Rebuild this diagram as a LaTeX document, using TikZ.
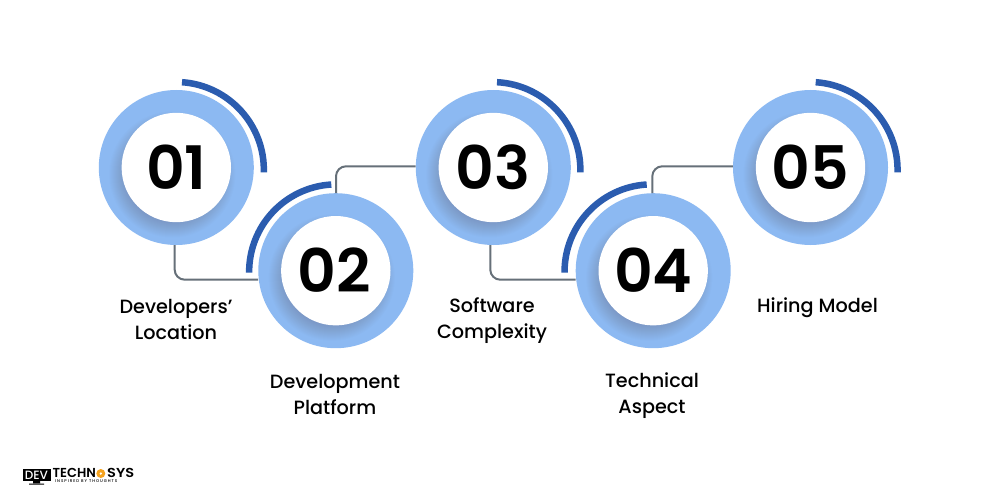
\documentclass[tikz,border=0pt]{standalone}
\usepackage{fontspec}
\setmainfont{Poppins Medium}[BoldFont={Poppins SemiBold}]
\usetikzlibrary{calc}
\definecolor{ringblue}{HTML}{8CB9F2}
\definecolor{arcblue}{HTML}{2B5CAF}
\definecolor{linegray}{HTML}{667079}
\definecolor{logoorange}{HTML}{F5A31F}
\definecolor{shadegray}{HTML}{6E6A80}
\tikzset{
  x=1pt,y=-1pt,
  ring/.style={circle,fill=ringblue,minimum size=155pt,inner sep=0pt},
  hole/.style={circle,fill=white,minimum size=109.4pt,inner sep=0pt,font=\fontsize{60}{60}\selectfont\bfseries,text=black},
  conn/.style={draw=linegray,line width=2pt,rounded corners=10pt},
  sweep/.style={draw=arcblue,line width=6.5pt},
  label/.style={align=center,font=\fontsize{19.2}{26}\selectfont,text=black,inner sep=0pt},
  logotext/.style={font=\fontsize{13}{13}\selectfont\bfseries,text=black,inner sep=0pt,anchor=west},
}
\newcommand{\shadowstack}[1]{%
  \begin{scope}
    \clip (#1) circle (77.5);
    \foreach \r in {63,62,...,46}{
      \fill[shadegray,opacity=0.024] ($(#1)+(-4,7)$) circle (\r);
    }
  \end{scope}}
\begin{document}
\begin{tikzpicture}
\useasboundingbox (0,0) rectangle (1000,500);
\fill[white] (0,0) rectangle (1000,500);
\coordinate (c1) at (176.3,167.5);
\coordinate (c2) at (335.8,270.7);
\coordinate (c3) at (493.3,167.5);
\coordinate (c4) at (653.2,270.7);
\coordinate (c5) at (810.5,167.5);
% rings
\node[ring] (r1) at (c1) {};
\node[ring] (r2) at (c2) {};
\node[ring] (r3) at (c3) {};
\node[ring] (r4) at (c4) {};
\node[ring] (r5) at (c5) {};
% connectors
\draw[conn] ([xshift=-1.6pt]r1.south) |- ([yshift=-9pt]r2.west);
\draw[conn] ([xshift=0.2pt]r2.north) |- ([yshift=1.2pt]r3.west);
\draw[conn] ([xshift=-3pt]r3.south) |- ([yshift=-9pt]r4.west);
\draw[conn] ([xshift=-0.9pt]r4.north) |- ([yshift=1.2pt]r5.west);
% shadows
\shadowstack{r1}\shadowstack{r2}\shadowstack{r3}\shadowstack{r4}\shadowstack{r5}
% inner discs
\node[hole] (h1) at (r1) {\raisebox{1pt}{01}};
\node[hole] (h2) at (r2) {\raisebox{1pt}{\hspace{-3pt}02}};
\node[hole] (h3) at (r3) {\raisebox{1pt}{\hspace{-1pt}03}};
\node[hole] (h4) at (r4) {\raisebox{1pt}{04}};
\node[hole] (h5) at (r5) {\raisebox{1pt}{05}};
% sweeps
\draw[sweep] (182,82.2) arc[start angle=86,end angle=-1.5,radius=88,y radius=-88];
\draw[sweep] (497,82.2) arc[start angle=87,end angle=-1.5,radius=88,y radius=-88];
\draw[sweep] (815.7,82.2) arc[start angle=86,end angle=-1.5,radius=88,y radius=-88];
\draw[sweep] (331.3,184.5) arc[start angle=93.5,end angle=180.5,radius=87.5,y radius=-87.5];
\draw[sweep] (646.7,184.5) arc[start angle=93.5,end angle=180.5,radius=87.5,y radius=-87.5];
% labels
\node[label] (t1) at (176,319.5) {Developers’\\Location};
\node[label] (t2) at (335,394.5) {Development\\Platform};
\node[label] (t3) at (492,321) {Software\\Complexity};
\node[label] (t4) at (652,396) {Technical\\Aspect};
\node[label] (t5) at (817.5,308) {Hiring Model};
% logo
\fill[black] (22.5,469) rectangle (50.5,481);
\fill[black] (33,481) rectangle (40,483) (29,483.5) rectangle (44,484.5);
\node[font=\fontsize{12}{12}\selectfont,text=white,inner sep=0pt] (ld) at (36.5,475.2) {DEV};
\node[logotext] (lt) at (52.5,473) {TECHN};
\fill[logoorange] (100.8,473.5) circle (4.5);
\fill[white] (100.8,473.5) circle (1.3);
\node[logotext,xscale=1.12] (ls) at (107,473) {SYS};
\node[font=\fontsize{4}{4}\selectfont\addfontfeature{LetterSpace=24},text=black,inner sep=0pt,anchor=west] (li) at (55,481.4) {INSPIRED BY THOUGHTS};
\end{tikzpicture}
\end{document}
